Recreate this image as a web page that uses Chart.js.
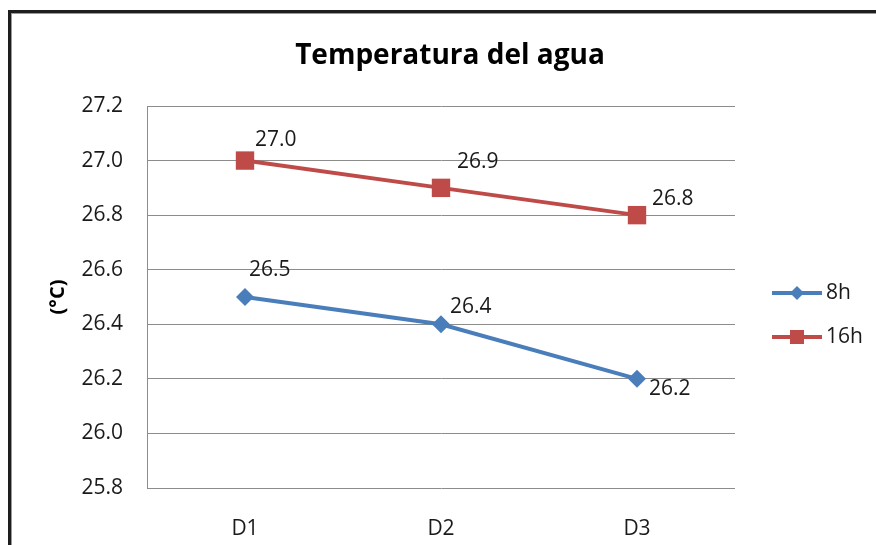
<!DOCTYPE html>
<html>
<head>
<meta charset="utf-8">
<script src="https://cdn.jsdelivr.net/npm/chart.js@4/dist/chart.umd.min.js"></script>
<style>
    html, body { margin: 0; padding: 0; background: #fff; }
    #wrap { position: relative; width: 876px; height: 545px; overflow: hidden; }
    #frame {
        position: absolute; left: 8px; top: 10px; width: 900px; height: 600px;
        border-top: 3px solid #1e1e1e; border-left: 3px solid #1e1e1e;
        box-shadow: inset 1px 1px 0 #9a9a9a;
        pointer-events: none;
    }
</style>
</head>
<body>
<div id="wrap">
    <canvas id="chart" width="876" height="545"></canvas>
    <div id="frame"></div>
</div>
<script>
// ============================================
// DATOS
// ============================================

const categories = ['D1', 'D2', 'D3'];

const temp8h = [26.5, 26.4, 26.2];

const temp16h = [27.0, 26.9, 26.8];

const yTicks = [25.8, 26.0, 26.2, 26.4, 26.6, 26.8, 27.0, 27.2];


const BLUE = '#4a7ebb';
const RED = '#be4b48';
const FONT = "'Open Sans', 'DejaVu Sans', sans-serif";


// desplazamiento de etiquetas (dx desde el punto al borde izq., dy al centro)
const labelOffsets = [
    [[4, -27], [9, -17], [12, 10]],
    [[10, -21], [16, -26], [15, -16]]
];


// ============================================
// PLUGIN: titulo, etiquetas y leyenda
// ============================================

const extras = {

    id: 'extras',

    afterDatasetsDraw(chart) {

        const ctx = chart.ctx;

        ctx.save();

        // etiquetas de datos
        ctx.font = '21px ' + FONT;
        ctx.fillStyle = '#1a1a1a';
        ctx.textAlign = 'left';
        ctx.textBaseline = 'middle';

        chart.data.datasets.forEach((ds, di) => {

            const meta = chart.getDatasetMeta(di);

            meta.data.forEach((pt, i) => {

                const off = labelOffsets[di][i];

                ctx.fillText(
                    ds.data[i].toFixed(1),
                    pt.x + off[0],
                    pt.y + off[1]
                );
            });
        });

        // titulo
        ctx.font = 'bold 28px ' + FONT;
        ctx.textAlign = 'center';
        ctx.fillStyle = '#000';
        ctx.fillText('Temperatura del agua', 450, 56);

        // leyenda
        const items = [
            { label: '8h', color: BLUE, style: 'diamond', y: 293 },
            { label: '16h', color: RED, style: 'square', y: 337 }
        ];

        items.forEach(it => {

            ctx.strokeStyle = it.color;
            ctx.lineWidth = 4;
            ctx.beginPath();
            ctx.moveTo(772, it.y);
            ctx.lineTo(822, it.y);
            ctx.stroke();

            ctx.fillStyle = it.color;
            ctx.beginPath();

            if (it.style === 'diamond') {
                ctx.moveTo(797, it.y - 7);
                ctx.lineTo(804, it.y);
                ctx.lineTo(797, it.y + 7);
                ctx.lineTo(790, it.y);
                ctx.closePath();
            } else {
                ctx.rect(790, it.y - 7, 14, 14);
            }

            ctx.fill();

            ctx.fillStyle = '#1a1a1a';
            ctx.font = '21px ' + FONT;
            ctx.textAlign = 'left';
            ctx.fillText(it.label, 826, it.y);
        });

        ctx.restore();
    }
};


// ============================================
// GRAFICA
// ============================================

new Chart(document.getElementById('chart').getContext('2d'), {

    type: 'line',

    data: {

        labels: categories,

        datasets: [

            {
                label: '8h',
                data: temp8h,
                borderColor: BLUE,
                backgroundColor: BLUE,
                borderWidth: 4,
                pointStyle: 'rectRot',
                pointRadius: 9,
                pointBorderWidth: 0,
                tension: 0
            },

            {
                label: '16h',
                data: temp16h,
                borderColor: RED,
                backgroundColor: RED,
                borderWidth: 4,
                pointStyle: 'rect',
                pointRadius: 13,
                pointBorderWidth: 0,
                tension: 0
            }
        ]
    },

    options: {

        responsive: false,

        animation: false,

        events: [],

        layout: {
            padding: { left: 0, right: 141, top: 106, bottom: 0 }
        },

        plugins: {
            legend: { display: false },
            title: { display: false },
            tooltip: { enabled: false }
        },

        scales: {

            x: {
                offset: true,
                grid: { display: false },
                border: { display: false },
                ticks: {
                    padding: 20,
                    color: '#1a1a1a',
                    font: { family: FONT, size: 21 }
                },
                afterFit(scale) {
                    scale.height = 57;
                }
            },

            y: {
                min: 25.8,
                max: 27.2,
                afterBuildTicks(scale) {
                    scale.ticks = yTicks.map(v => ({ value: v }));
                },
                grid: {
                    color: '#8c8c8c',
                    lineWidth: 1,
                    drawTicks: false
                },
                border: { display: true, color: '#8c8c8c', width: 1 },
                ticks: {
                    padding: 24,
                    color: '#1a1a1a',
                    font: { family: FONT, size: 21 },
                    callback: v => v.toFixed(1)
                },
                title: {
                    display: true,
                    text: '(°C)',
                    color: '#000',
                    font: { family: FONT, size: 20, weight: 'bold' },
                    padding: { top: 46, bottom: 0 }
                },
                afterFit(scale) {
                    scale.width = 147;
                }
            }
        }
    },

    plugins: [extras]
});
</script>
</body>
</html>
